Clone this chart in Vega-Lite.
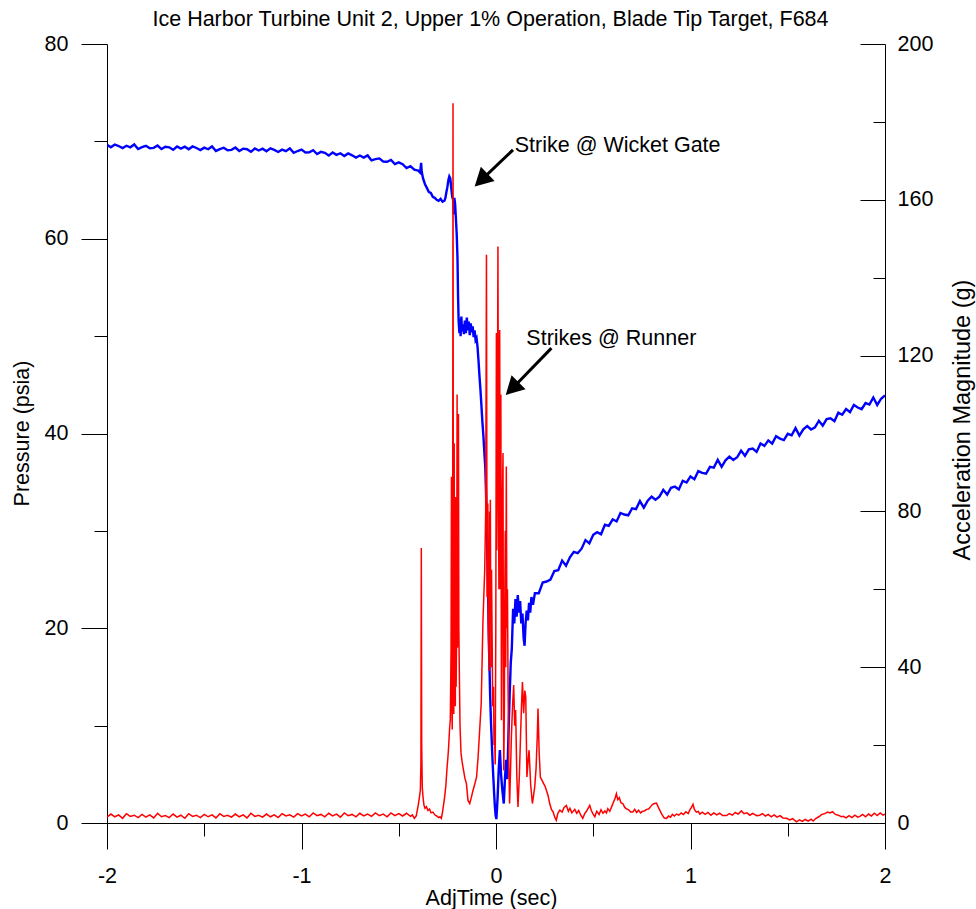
{
"$schema":"https://vega.github.io/schema/vega-lite/v6.json",
"width":778,"height":779,
"autosize":{"type":"none"},
"padding":{"left":107,"top":44,"right":91,"bottom":86},
"title":{"text":"Ice Harbor Turbine Unit 2, Upper 1% Operation, Blade Tip Target, F684","fontSize":21.5,"fontWeight":"normal","font":"Liberation Sans","color":"black","anchor":"middle","frame":"group","dx":-5.5,"dy":22,"offset":8,"baseline":"alphabetic"},
"config":{"font":"Liberation Sans","view":{"stroke":null},"axis":{"grid":false,"labelFontSize":21.5,"titleFontSize":21.5,"titleFontWeight":"normal","labelColor":"black","titleColor":"black","domainColor":"black","tickColor":"black","labelFlush":false,"labelOverlap":false,"labelBound":false}},
"datasets":{
"pressure":[
{"t":-2.00,"p":69.65},{"t":-1.98,"p":69.39},{"t":-1.96,"p":69.68},{"t":-1.94,"p":69.52},{"t":-1.92,"p":69.31},{"t":-1.90,"p":69.55},{"t":-1.88,"p":69.39},{"t":-1.86,"p":69.68},{"t":-1.84,"p":69.22},{"t":-1.82,"p":69.41},{"t":-1.80,"p":69.55},{"t":-1.78,"p":69.29},{"t":-1.76,"p":69.33},{"t":-1.74,"p":69.57},{"t":-1.72,"p":69.21},{"t":-1.70,"p":69.45},{"t":-1.68,"p":69.39},{"t":-1.66,"p":69.13},{"t":-1.64,"p":69.47},{"t":-1.62,"p":69.26},{"t":-1.60,"p":69.45},{"t":-1.58,"p":69.19},{"t":-1.56,"p":69.48},{"t":-1.54,"p":69.32},{"t":-1.52,"p":69.11},{"t":-1.50,"p":69.35},{"t":-1.48,"p":69.19},{"t":-1.46,"p":69.48},{"t":-1.44,"p":69.02},{"t":-1.42,"p":69.21},{"t":-1.40,"p":69.35},{"t":-1.38,"p":69.09},{"t":-1.36,"p":69.13},{"t":-1.34,"p":69.37},{"t":-1.32,"p":69.01},{"t":-1.30,"p":69.25},{"t":-1.28,"p":69.19},{"t":-1.26,"p":68.93},{"t":-1.24,"p":69.27},{"t":-1.22,"p":69.06},{"t":-1.20,"p":69.25},{"t":-1.18,"p":68.99},{"t":-1.16,"p":69.28},{"t":-1.14,"p":69.12},{"t":-1.12,"p":68.91},{"t":-1.10,"p":69.15},{"t":-1.08,"p":68.99},{"t":-1.06,"p":69.28},{"t":-1.04,"p":68.82},{"t":-1.02,"p":69.01},{"t":-1.00,"p":69.15},{"t":-0.98,"p":68.86},{"t":-0.96,"p":68.88},{"t":-0.94,"p":69.09},{"t":-0.92,"p":68.70},{"t":-0.90,"p":68.92},{"t":-0.88,"p":68.83},{"t":-0.86,"p":68.54},{"t":-0.84,"p":68.86},{"t":-0.82,"p":68.62},{"t":-0.80,"p":68.78},{"t":-0.78,"p":68.50},{"t":-0.76,"p":68.76},{"t":-0.74,"p":68.57},{"t":-0.72,"p":68.34},{"t":-0.70,"p":68.55},{"t":-0.68,"p":68.33},{"t":-0.66,"p":68.56},{"t":-0.64,"p":68.04},{"t":-0.62,"p":68.17},{"t":-0.60,"p":68.25},{"t":-0.58,"p":67.93},{"t":-0.56,"p":67.91},{"t":-0.54,"p":68.09},{"t":-0.52,"p":67.67},{"t":-0.50,"p":67.85},{"t":-0.48,"p":67.65},{"t":-0.46,"p":67.25},{"t":-0.44,"p":67.45},{"t":-0.42,"p":67.10},{"t":-0.40,"p":67.0},{"t":-0.39,"p":66.8},{"t":-0.385,"p":67.8},{"t":-0.382,"p":66.9},{"t":-0.375,"p":66.2},{"t":-0.365,"p":65.6},{"t":-0.355,"p":65.2},{"t":-0.345,"p":64.8},{"t":-0.335,"p":64.7},{"t":-0.325,"p":64.3},{"t":-0.315,"p":64.2},{"t":-0.305,"p":64.0},{"t":-0.295,"p":63.9},{"t":-0.285,"p":64.1},{"t":-0.275,"p":63.8},{"t":-0.265,"p":63.9},{"t":-0.26,"p":64.2},{"t":-0.255,"p":64.8},{"t":-0.25,"p":65.3},{"t":-0.245,"p":66.0},{"t":-0.24,"p":66.4},{"t":-0.235,"p":66.2},{"t":-0.23,"p":65.2},{"t":-0.225,"p":64.3},{"t":-0.22,"p":64.0},{"t":-0.217,"p":62.5},{"t":-0.214,"p":64.2},{"t":-0.21,"p":63.5},{"t":-0.206,"p":62.0},{"t":-0.202,"p":60.5},{"t":-0.198,"p":58.0},{"t":-0.195,"p":54.0},{"t":-0.192,"p":51.5},{"t":-0.188,"p":50.3},{"t":-0.185,"p":51.8},{"t":-0.182,"p":50.0},{"t":-0.178,"p":52.0},{"t":-0.175,"p":50.5},{"t":-0.17,"p":51.2},{"t":-0.165,"p":50.2},{"t":-0.16,"p":51.6},{"t":-0.155,"p":50.3},{"t":-0.15,"p":51.9},{"t":-0.145,"p":50.6},{"t":-0.14,"p":51.5},{"t":-0.135,"p":50.1},{"t":-0.13,"p":51.3},{"t":-0.125,"p":50.4},{"t":-0.12,"p":51.0},{"t":-0.115,"p":49.9},{"t":-0.11,"p":50.6},{"t":-0.105,"p":49.6},{"t":-0.1,"p":49.8},{"t":-0.095,"p":48.9},{"t":-0.09,"p":47.5},{"t":-0.085,"p":45.9},{"t":-0.08,"p":44.5},{"t":-0.075,"p":42.9},{"t":-0.07,"p":41.2},{"t":-0.065,"p":39.8},{"t":-0.06,"p":38.1},{"t":-0.055,"p":36.5},{"t":-0.05,"p":33.0},{"t":-0.046,"p":29.0},{"t":-0.042,"p":25.0},{"t":-0.038,"p":20.5},{"t":-0.034,"p":16.5},{"t":-0.03,"p":13.0},{"t":-0.026,"p":10.5},{"t":-0.022,"p":8.5},{"t":-0.018,"p":6.5},{"t":-0.014,"p":4.8},{"t":-0.01,"p":3.2},{"t":-0.006,"p":1.8},{"t":-0.002,"p":0.8},{"t":0.002,"p":0.4},{"t":0.008,"p":2.5},{"t":0.014,"p":5.5},{"t":0.02,"p":7.5},{"t":0.026,"p":5.0},{"t":0.032,"p":3.5},{"t":0.04,"p":2.0},{"t":0.046,"p":4.5},{"t":0.052,"p":6.5},{"t":0.058,"p":4.5},{"t":0.064,"p":9.0},{"t":0.07,"p":13.0},{"t":0.076,"p":16.5},{"t":0.081,"p":17.8},{"t":0.088,"p":22.0},{"t":0.094,"p":20.5},{"t":0.1,"p":23.0},{"t":0.106,"p":21.2},{"t":0.112,"p":23.4},{"t":0.118,"p":21.6},{"t":0.124,"p":22.8},{"t":0.13,"p":20.5},{"t":0.136,"p":21.5},{"t":0.142,"p":19.0},{"t":0.147,"p":18.2},{"t":0.152,"p":20.5},{"t":0.158,"p":21.8},{"t":0.164,"p":20.8},{"t":0.17,"p":22.6},{"t":0.176,"p":21.6},{"t":0.182,"p":23.2},{"t":0.19,"p":22.4},{"t":0.2,"p":23.6},{"t":0.22,"p":23.6},{"t":0.24,"p":24.7},{"t":0.26,"p":24.8},{"t":0.28,"p":25.0},{"t":0.3,"p":25.88},{"t":0.32,"p":25.96},{"t":0.34,"p":26.95},{"t":0.36,"p":26.42},{"t":0.38,"p":27.28},{"t":0.4,"p":27.85},{"t":0.42,"p":27.71},{"t":0.44,"p":28.17},{"t":0.46,"p":29.05},{"t":0.48,"p":28.72},{"t":0.5,"p":29.59},{"t":0.52,"p":29.86},{"t":0.54,"p":29.65},{"t":0.56,"p":30.63},{"t":0.58,"p":30.51},{"t":0.6,"p":31.19},{"t":0.62,"p":30.97},{"t":0.64,"p":31.84},{"t":0.66,"p":31.68},{"t":0.68,"p":31.6},{"t":0.7,"p":32.32},{"t":0.72,"p":32.24},{"t":0.74,"p":33.06},{"t":0.76,"p":32.38},{"t":0.78,"p":33.1},{"t":0.8,"p":33.51},{"t":0.82,"p":33.21},{"t":0.84,"p":33.52},{"t":0.86,"p":34.22},{"t":0.88,"p":33.73},{"t":0.9,"p":34.43},{"t":0.92,"p":34.54},{"t":0.94,"p":34.25},{"t":0.96,"p":35.15},{"t":0.98,"p":34.97},{"t":1.0,"p":35.59},{"t":1.02,"p":35.31},{"t":1.04,"p":36.13},{"t":1.06,"p":35.95},{"t":1.08,"p":35.87},{"t":1.1,"p":36.58},{"t":1.12,"p":36.5},{"t":1.14,"p":37.3},{"t":1.16,"p":36.57},{"t":1.18,"p":37.24},{"t":1.2,"p":37.62},{"t":1.22,"p":37.29},{"t":1.24,"p":37.56},{"t":1.26,"p":38.24},{"t":1.28,"p":37.71},{"t":1.3,"p":38.38},{"t":1.32,"p":38.45},{"t":1.34,"p":38.11},{"t":1.36,"p":38.97},{"t":1.38,"p":38.73},{"t":1.4,"p":39.29},{"t":1.42,"p":38.96},{"t":1.44,"p":39.72},{"t":1.46,"p":39.48},{"t":1.48,"p":39.33},{"t":1.5,"p":39.97},{"t":1.52,"p":39.81},{"t":1.54,"p":40.55},{"t":1.56,"p":39.79},{"t":1.58,"p":40.43},{"t":1.6,"p":40.77},{"t":1.62,"p":40.41},{"t":1.64,"p":40.64},{"t":1.66,"p":41.31},{"t":1.68,"p":40.8},{"t":1.7,"p":41.48},{"t":1.72,"p":41.57},{"t":1.74,"p":41.26},{"t":1.76,"p":42.14},{"t":1.78,"p":41.93},{"t":1.8,"p":42.51},{"t":1.82,"p":42.2},{"t":1.84,"p":42.93},{"t":1.86,"p":42.67},{"t":1.88,"p":42.5},{"t":1.9,"p":43.13},{"t":1.92,"p":42.97},{"t":1.94,"p":43.7},{"t":1.96,"p":42.93},{"t":1.98,"p":43.57},{"t":2.0,"p":43.9}
],
"accel":[
{"t":-2.00,"a":1.5},{"t":-1.98,"a":2.3},{"t":-1.96,"a":1.6},{"t":-1.94,"a":2.1},{"t":-1.92,"a":1.2},{"t":-1.90,"a":2.4},{"t":-1.88,"a":1.7},{"t":-1.86,"a":2.0},{"t":-1.84,"a":1.4},{"t":-1.82,"a":2.2},{"t":-1.80,"a":1.5},{"t":-1.78,"a":2.1},{"t":-1.76,"a":1.3},{"t":-1.74,"a":2.5},{"t":-1.72,"a":1.6},{"t":-1.70,"a":1.9},{"t":-1.68,"a":1.4},{"t":-1.66,"a":2.3},{"t":-1.64,"a":1.5},{"t":-1.62,"a":2.0},{"t":-1.60,"a":1.2},{"t":-1.58,"a":2.4},{"t":-1.56,"a":1.7},{"t":-1.54,"a":2.0},{"t":-1.52,"a":1.4},{"t":-1.50,"a":2.2},{"t":-1.48,"a":1.6},{"t":-1.46,"a":2.1},{"t":-1.44,"a":1.3},{"t":-1.42,"a":2.4},{"t":-1.40,"a":1.7},{"t":-1.38,"a":2.0},{"t":-1.36,"a":1.5},{"t":-1.34,"a":2.3},{"t":-1.32,"a":1.6},{"t":-1.30,"a":2.1},{"t":-1.28,"a":1.3},{"t":-1.26,"a":2.5},{"t":-1.24,"a":1.7},{"t":-1.22,"a":2.0},{"t":-1.20,"a":1.5},{"t":-1.18,"a":2.3},{"t":-1.16,"a":1.6},{"t":-1.14,"a":2.1},{"t":-1.12,"a":1.4},{"t":-1.10,"a":2.4},{"t":-1.08,"a":1.8},{"t":-1.06,"a":2.1},{"t":-1.04,"a":1.5},{"t":-1.02,"a":2.4},{"t":-1.00,"a":1.8},{"t":-0.98,"a":2.3},{"t":-0.96,"a":1.6},{"t":-0.94,"a":2.6},{"t":-0.92,"a":1.9},{"t":-0.90,"a":2.2},{"t":-0.88,"a":1.6},{"t":-0.86,"a":2.5},{"t":-0.84,"a":1.8},{"t":-0.82,"a":2.3},{"t":-0.80,"a":1.5},{"t":-0.78,"a":2.6},{"t":-0.76,"a":1.9},{"t":-0.74,"a":2.2},{"t":-0.72,"a":1.6},{"t":-0.70,"a":2.5},{"t":-0.68,"a":1.8},{"t":-0.66,"a":2.3},{"t":-0.64,"a":1.7},{"t":-0.62,"a":2.6},{"t":-0.60,"a":1.9},{"t":-0.58,"a":2.3},{"t":-0.56,"a":1.6},{"t":-0.54,"a":2.6},{"t":-0.52,"a":1.9},{"t":-0.50,"a":2.4},{"t":-0.48,"a":1.8},{"t":-0.46,"a":2.5},{"t":-0.44,"a":1.7},{"t":-0.43,"a":2.1},{"t":-0.42,"a":1.2},{"t":-0.41,"a":1.8},{"t":-0.40,"a":4.5},{"t":-0.394,"a":6.5},{"t":-0.389,"a":8.4},{"t":-0.386,"a":15},{"t":-0.384,"a":70.6},{"t":-0.382,"a":20},{"t":-0.379,"a":9.2},{"t":-0.375,"a":6.5},{"t":-0.37,"a":4.5},{"t":-0.365,"a":3.8},{"t":-0.358,"a":4.2},{"t":-0.35,"a":3.2},{"t":-0.342,"a":3.6},{"t":-0.334,"a":2.6},{"t":-0.324,"a":2.8},{"t":-0.315,"a":2.1},{"t":-0.305,"a":1.8},{"t":-0.295,"a":1.4},{"t":-0.288,"a":1.6},{"t":-0.281,"a":1.2},{"t":-0.276,"a":2.5},{"t":-0.27,"a":4.5},{"t":-0.264,"a":6.7},{"t":-0.258,"a":9.5},{"t":-0.252,"a":14},{"t":-0.247,"a":17},{"t":-0.243,"a":20},{"t":-0.24,"a":23},{"t":-0.238,"a":24.7},{"t":-0.235,"a":26.4},{"t":-0.233,"a":35},{"t":-0.231,"a":45},{"t":-0.229,"a":88.9},{"t":-0.227,"a":30},{"t":-0.225,"a":24},{"t":-0.223,"a":50},{"t":-0.221,"a":184.8},{"t":-0.219,"a":45},{"t":-0.217,"a":28},{"t":-0.215,"a":97.5},{"t":-0.213,"a":40},{"t":-0.211,"a":60},{"t":-0.209,"a":30},{"t":-0.207,"a":83.7},{"t":-0.205,"a":35},{"t":-0.202,"a":50},{"t":-0.2,"a":110},{"t":-0.198,"a":45},{"t":-0.195,"a":70},{"t":-0.193,"a":105},{"t":-0.191,"a":50},{"t":-0.188,"a":36.7},{"t":-0.185,"a":25},{"t":-0.18,"a":18},{"t":-0.175,"a":16},{"t":-0.17,"a":14.4},{"t":-0.165,"a":13},{"t":-0.16,"a":11.5},{"t":-0.152,"a":10.1},{"t":-0.144,"a":5.8},{"t":-0.135,"a":5},{"t":-0.127,"a":6.5},{"t":-0.118,"a":8.4},{"t":-0.11,"a":9.8},{"t":-0.1,"a":11.8},{"t":-0.092,"a":17},{"t":-0.084,"a":23.8},{"t":-0.076,"a":30.7},{"t":-0.067,"a":52},{"t":-0.058,"a":65},{"t":-0.053,"a":80},{"t":-0.049,"a":145.9},{"t":-0.047,"a":90},{"t":-0.046,"a":58},{"t":-0.044,"a":70},{"t":-0.042,"a":82},{"t":-0.04,"a":50},{"t":-0.038,"a":45},{"t":-0.036,"a":39},{"t":-0.033,"a":80},{"t":-0.031,"a":55},{"t":-0.029,"a":83},{"t":-0.026,"a":40},{"t":-0.023,"a":65},{"t":-0.02,"a":47.8},{"t":-0.017,"a":30},{"t":-0.013,"a":35},{"t":-0.01,"a":20},{"t":-0.007,"a":22},{"t":-0.004,"a":15},{"t":-0.001,"a":50},{"t":0.002,"a":125.8},{"t":0.004,"a":70},{"t":0.007,"a":100},{"t":0.01,"a":148},{"t":0.013,"a":80},{"t":0.015,"a":60},{"t":0.017,"a":95},{"t":0.019,"a":126.6},{"t":0.022,"a":60},{"t":0.025,"a":110},{"t":0.028,"a":26.4},{"t":0.031,"a":60},{"t":0.033,"a":83},{"t":0.036,"a":95},{"t":0.038,"a":40},{"t":0.04,"a":13.5},{"t":0.043,"a":30},{"t":0.045,"a":56},{"t":0.048,"a":75},{"t":0.05,"a":40},{"t":0.053,"a":91.5},{"t":0.056,"a":50},{"t":0.059,"a":60},{"t":0.062,"a":35},{"t":0.066,"a":15},{"t":0.07,"a":5},{"t":0.074,"a":12},{"t":0.079,"a":22},{"t":0.085,"a":30},{"t":0.091,"a":35.4},{"t":0.096,"a":25},{"t":0.101,"a":29},{"t":0.107,"a":12},{"t":0.113,"a":4.1},{"t":0.12,"a":12},{"t":0.126,"a":22},{"t":0.131,"a":30},{"t":0.136,"a":36.2},{"t":0.142,"a":28.2},{"t":0.148,"a":34},{"t":0.153,"a":32.4},{"t":0.159,"a":11.8},{"t":0.165,"a":16},{"t":0.17,"a":18.7},{"t":0.178,"a":10},{"t":0.187,"a":5},{"t":0.193,"a":7},{"t":0.199,"a":9.2},{"t":0.206,"a":14},{"t":0.212,"a":22},{"t":0.216,"a":29.4},{"t":0.222,"a":18},{"t":0.228,"a":11.8},{"t":0.236,"a":11},{"t":0.245,"a":10.1},{"t":0.252,"a":9.5},{"t":0.259,"a":8.4},{"t":0.268,"a":7},{"t":0.276,"a":5},{"t":0.285,"a":3.5},{"t":0.294,"a":2.8},{"t":0.302,"a":1.5},{"t":0.31,"a":0.7},{"t":0.318,"a":2.5},{"t":0.328,"a":3.3},{"t":0.34,"a":2.8},{"t":0.35,"a":4.0},{"t":0.362,"a":4.5},{"t":0.372,"a":3.0},{"t":0.38,"a":3.8},{"t":0.39,"a":2.6},{"t":0.405,"a":3.5},{"t":0.415,"a":2.5},{"t":0.425,"a":3.2},{"t":0.436,"a":2.0},{"t":0.446,"a":1.2},{"t":0.456,"a":2.4},{"t":0.465,"a":3.0},{"t":0.474,"a":3.8},{"t":0.482,"a":4.5},{"t":0.49,"a":3.2},{"t":0.498,"a":2.4},{"t":0.508,"a":1.6},{"t":0.518,"a":3.0},{"t":0.53,"a":2.2},{"t":0.54,"a":3.4},{"t":0.55,"a":2.5},{"t":0.56,"a":3.1},{"t":0.568,"a":2.6},{"t":0.575,"a":3.7},{"t":0.585,"a":3.0},{"t":0.595,"a":4.2},{"t":0.605,"a":5.5},{"t":0.612,"a":6.3},{"t":0.619,"a":7.5},{"t":0.626,"a":6.0},{"t":0.634,"a":6.5},{"t":0.642,"a":5.2},{"t":0.652,"a":5.0},{"t":0.662,"a":4.0},{"t":0.672,"a":3.6},{"t":0.682,"a":3.4},{"t":0.692,"a":2.8},{"t":0.703,"a":2.8},{"t":0.713,"a":3.5},{"t":0.723,"a":2.7},{"t":0.733,"a":3.3},{"t":0.743,"a":2.6},{"t":0.753,"a":3.0},{"t":0.763,"a":3.1},{"t":0.774,"a":3.5},{"t":0.785,"a":3.6},{"t":0.795,"a":4.2},{"t":0.805,"a":4.8},{"t":0.815,"a":5.0},{"t":0.825,"a":5.1},{"t":0.835,"a":4.0},{"t":0.845,"a":3.0},{"t":0.855,"a":2.0},{"t":0.865,"a":1.3},{"t":0.877,"a":1.2},{"t":0.887,"a":1.8},{"t":0.897,"a":1.5},{"t":0.907,"a":2.2},{"t":0.917,"a":1.8},{"t":0.928,"a":2.3},{"t":0.94,"a":2.0},{"t":0.952,"a":2.6},{"t":0.964,"a":2.2},{"t":0.976,"a":2.9},{"t":0.988,"a":2.4},{"t":0.998,"a":3.5},{"t":1.005,"a":4.0},{"t":1.013,"a":4.8},{"t":1.02,"a":3.5},{"t":1.03,"a":2.8},{"t":1.04,"a":3.0},{"t":1.048,"a":2.3},{"t":1.06,"a":2.8},{"t":1.075,"a":2.2},{"t":1.09,"a":2.7},{"t":1.105,"a":2.0},{"t":1.12,"a":2.6},{"t":1.135,"a":2.1},{"t":1.15,"a":2.5},{"t":1.165,"a":1.9},{"t":1.185,"a":1.9},{"t":1.2,"a":2.4},{"t":1.215,"a":2.0},{"t":1.23,"a":2.7},{"t":1.245,"a":2.3},{"t":1.262,"a":3.1},{"t":1.275,"a":2.4},{"t":1.29,"a":2.6},{"t":1.305,"a":2.0},{"t":1.32,"a":2.5},{"t":1.34,"a":1.9},{"t":1.356,"a":2.0},{"t":1.37,"a":2.4},{"t":1.385,"a":1.8},{"t":1.4,"a":2.2},{"t":1.415,"a":1.6},{"t":1.43,"a":2.1},{"t":1.445,"a":1.5},{"t":1.46,"a":1.9},{"t":1.475,"a":1.3},{"t":1.494,"a":1.2},{"t":1.51,"a":0.8},{"t":1.525,"a":1.1},{"t":1.545,"a":0.3},{"t":1.56,"a":0.8},{"t":1.575,"a":0.4},{"t":1.59,"a":0.9},{"t":1.605,"a":0.5},{"t":1.62,"a":1.0},{"t":1.631,"a":0.5},{"t":1.645,"a":1.2},{"t":1.66,"a":1.6},{"t":1.675,"a":2.2},{"t":1.69,"a":2.4},{"t":1.705,"a":2.8},{"t":1.717,"a":2.6},{"t":1.73,"a":2.9},{"t":1.745,"a":2.2},{"t":1.76,"a":2.0},{"t":1.775,"a":1.6},{"t":1.785,"a":1.7},{"t":1.8,"a":1.3},{"t":1.815,"a":1.9},{"t":1.83,"a":1.4},{"t":1.845,"a":2.0},{"t":1.86,"a":1.5},{"t":1.871,"a":1.7},{"t":1.885,"a":2.2},{"t":1.9,"a":1.6},{"t":1.915,"a":2.3},{"t":1.93,"a":1.8},{"t":1.945,"a":2.5},{"t":1.96,"a":1.9},{"t":1.975,"a":2.6},{"t":1.99,"a":2.0},{"t":2.0,"a":2.3}
],
"arrows":[{"t":0.0875,"p":69.13,"t2":-0.069,"p2":66.15},{"t":0.285,"p":48.77,"t2":0.09,"p2":44.75}],
"heads":[{"t":-0.069,"p":66.15,"ang":226},{"t":0.09,"p":44.75,"ang":225}],
"notes":[{"t":0.0962,"p":68.96,"label":"Strike @ Wicket Gate"},{"t":0.156,"p":49.06,"label":"Strikes @ Runner"}]
},
"resolve":{"scale":{"y":"independent"}},
"encoding":{
  "x":{"field":"t","type":"quantitative","scale":{"domain":[-2,2],"nice":false,"zero":false},
   "axis":{"title":"AdjTime (sec)","values":[-2,-1.5,-1,-0.5,0,0.5,1,1.5,2],"labelExpr":"datum.value % 1 === 0 ? toString(datum.value) : ''","tickSize":{"condition":{"test":"datum.value % 1 === 0","value":26},"value":13},"labelPadding":16,"titleX":384,"titleY":81,"titleAlign":"center","titleBaseline":"alphabetic"}}
},
"layer":[
{"data":{"name":"pressure"},"mark":{"type":"line","color":"#0000ff","strokeWidth":2.4,"clip":true},
 "encoding":{
  "y":{"field":"p","type":"quantitative","scale":{"domain":[0,80],"nice":false,"zero":false},
   "axis":{"orient":"left","title":"Pressure (psia)","values":[0,10,20,30,40,50,60,70,80],"labelExpr":"datum.value % 20 === 0 ? toString(datum.value) : ''","tickSize":{"condition":{"test":"datum.value % 20 === 0","value":26},"value":13},"labelPadding":13,"titleX":-78.5,"titleY":389,"titleAngle":-90,"titleAlign":"center","titleBaseline":"alphabetic"}}
 }},
{"data":{"name":"accel"},"mark":{"type":"line","color":"#ff0000","strokeWidth":1.5,"clip":true},
 "encoding":{
  "y":{"field":"a","type":"quantitative","scale":{"domain":[0,200],"nice":false,"zero":false},
   "axis":{"orient":"right","title":"Acceleration Magnitude (g)","titleFontSize":23.5,"values":[0,20,40,60,80,100,120,140,160,180,200],"labelExpr":"datum.value % 40 === 0 ? toString(datum.value) : ''","tickSize":{"condition":{"test":"datum.value % 40 === 0","value":-25},"value":-12},"labelPadding":37,"titleX":84.5,"titleY":375.5,"titleAngle":-90,"titleAlign":"center","titleBaseline":"alphabetic"}}
 }},
{"data":{"name":"arrows"},"mark":{"type":"rule","color":"black","strokeWidth":3},
 "encoding":{
  "x2":{"field":"t2"},
  "y":{"field":"p","type":"quantitative","scale":{"domain":[0,80],"nice":false,"zero":false},"axis":null},
  "y2":{"field":"p2"}
 }},
{"data":{"name":"heads"},"mark":{"type":"point","filled":true,"color":"black","opacity":1,"size":484,"shape":"M0,-1L0.9,0.65L-0.9,0.65Z"},
 "encoding":{
  "y":{"field":"p","type":"quantitative","scale":{"domain":[0,80],"nice":false,"zero":false},"axis":null},
  "angle":{"field":"ang","type":"quantitative","scale":null}
 }},
{"data":{"name":"notes"},"mark":{"type":"text","align":"left","baseline":"alphabetic","fontSize":21.5,"color":"black"},
 "encoding":{
  "y":{"field":"p","type":"quantitative","scale":{"domain":[0,80],"nice":false,"zero":false},"axis":null},
  "text":{"field":"label"}
 }}
]
}
